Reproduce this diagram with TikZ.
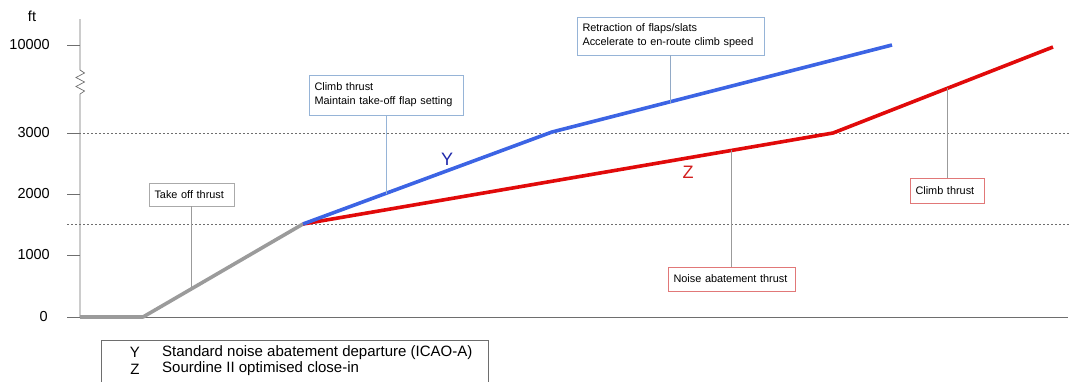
\documentclass[tikz,border=0pt]{standalone}
\usepackage{fontspec}
\setmainfont{Liberation Sans}
\definecolor{bluel}{RGB}{60,100,228}
\definecolor{redl}{RGB}{225,10,10}
\definecolor{grayl}{RGB}{155,155,155}
\definecolor{bbord}{RGB}{150,180,215}
\definecolor{rbord}{RGB}{225,120,120}
\definecolor{gbord}{RGB}{170,170,170}
\definecolor{axisc}{RGB}{110,110,110}
\definecolor{ylab}{RGB}{30,40,170}
\definecolor{zlab}{RGB}{210,30,30}
\tikzset{
  profile/.style={line width=3.6pt, line join=round},
  guide/.style={dash pattern=on 2pt off 2pt, color=axisc, line width=0.6pt},
  tbox/.style={draw, line width=0.8pt, fill=white, align=left, inner xsep=5.5pt, inner ysep=0pt,
    font=\fontsize{10.9}{14.2}\selectfont},
  leader/.style={line width=0.8pt},
  ticklab/.style={anchor=east, font=\fontsize{14.5}{16}\selectfont, inner sep=0pt},
  legfont/.style={font=\fontsize{15}{17}\selectfont},
}
\begin{document}
\begin{tikzpicture}[x=1pt, y=-1pt]
\useasboundingbox (0,0) rectangle (1070,381);
% guide lines
\draw[guide] (67,133) -- (1070,133);
\draw[guide] (67,224) -- (1070,224);
% axes
\draw[axisc, line width=0.7pt] (80,19) -- (80,70) -- (84.5,73) -- (76,77.5) -- (84.5,82) -- (76,86.5) -- (84.5,91) -- (80,94) -- (80,317);
\draw[axisc, line width=0.7pt] (67,317) -- (1068,317);
\foreach \y in {45,133,194,255,317} \draw[axisc, line width=0.7pt] (67,\y) -- (80,\y);
\node[font=\fontsize{14.5}{16}\selectfont] (ft) at (32,16) {ft};
\node[ticklab] (t1) at (50,45) {10000};
\node[ticklab] (t2) at (50,133) {3000};
\node[ticklab] (t3) at (50,194) {2000};
\node[ticklab] (t4) at (50,255) {1000};
\node[ticklab] (t5) at (48,317) {0};
% profiles
\coordinate (p0) at (80,317);
\coordinate (p1) at (143,317);
\coordinate (p2) at (303,224);
\coordinate (b1) at (552,132);
\coordinate (b2) at (892,45);
\coordinate (r1) at (833,133);
\coordinate (r2) at (1053,47);
\draw[profile, grayl] (p0) -- (p1) -- (p2);
\draw[profile, redl] (p2) -- (r1) -- (r2);
\draw[profile, bluel] (p2) -- (b1) -- (b2);
% labels Y / Z
\node[ylab, font=\fontsize{18}{20}\selectfont] (ly) at (447,159) {Y};
\node[zlab, font=\fontsize{18}{20}\selectfont] (lz) at (688,172) {Z};
% boxes
\node[tbox, draw=gbord, text width=74pt, minimum height=23pt] (tob) at (191.5,194.5) {\mbox{Take off thrust}};
\node[tbox, draw=bbord, text width=143pt, minimum height=40pt] (cb) at (386,95) {\mbox{Climb thrust}\\\mbox{Maintain take-off flap setting}};
\node[tbox, draw=bbord, text width=176pt, minimum height=38pt] (rb) at (670.5,36) {\mbox{Retraction of flaps/slats}\\\mbox{Accelerate to en-route climb speed}};
\node[tbox, draw=rbord, text width=116pt, minimum height=24pt] (nb) at (731.5,279) {\mbox{Noise abatement thrust}};
\node[tbox, draw=rbord, text width=63pt, minimum height=25pt] (rc) at (947,190.5) {\mbox{Climb thrust}};
% leader end points
\coordinate (g1) at (191.5,288.8);
\coordinate (g2) at (386,193.6);
\coordinate (g3) at (670.5,102.5);
\coordinate (g4) at (731.5,150.4);
\coordinate (g5) at (947,88.4);
\draw[leader, grayl] (tob.south) -- (g1);
\draw[leader, bbord] (cb.south) -- (g2);
\draw[leader, bbord!80!gray] (rb.south) -- (g3);
\draw[leader, grayl] (nb.north) -- (g4);
\draw[leader, grayl] (rc.north) -- (g5);
% legend
\draw[axisc, line width=0.7pt] (101,383) -- (101,340) -- (488,340) -- (488,383);
\node[legfont] (ky) at (135,352.5) {Y};
\node[legfont] (kz) at (135,369) {Z};
\node[legfont, anchor=west, inner sep=0pt] (dy) at (162,352.5) {Standard noise abatement departure (ICAO-A)};
\node[legfont, anchor=west, inner sep=0pt] (dz) at (162,369) {Sourdine II optimised close-in};
\end{tikzpicture}
\end{document}
